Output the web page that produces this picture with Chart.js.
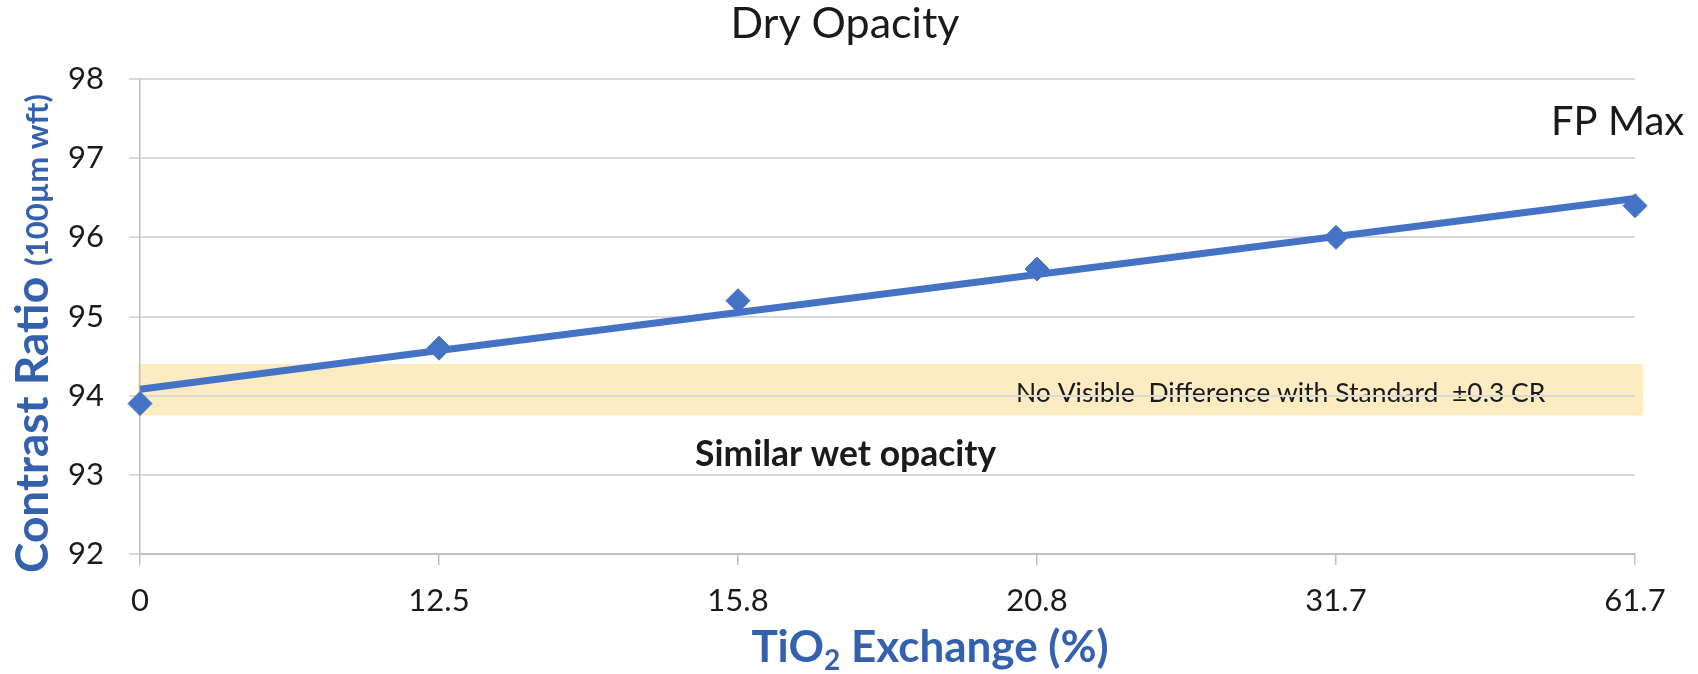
<!DOCTYPE html>
<html>
<head>
<meta charset="utf-8">
<title>Dry Opacity</title>
<script src="https://cdn.jsdelivr.net/npm/chart.js@4.4.1/dist/chart.umd.min.js"></script>
<style>
  html, body { margin: 0; padding: 0; background: #fff; }
  canvas { display: block; }
</style>
</head>
<body>
<canvas id="opacityChart" width="1698" height="674"></canvas>
<script>
// values
const categories = ['0', '12.5', '15.8', '20.8', '31.7', '61.7'];
const contrastRatio = [93.9, 94.6, 95.2, 95.6, 96.0, 96.4];
const trendLine = [94.08, 94.57, 95.05, 95.53, 96.01, 96.49];
const yTicks = [92, 93, 94, 95, 96, 97, 98];
const bandRange = [93.75, 94.4];

const blue = '#4472C4';
const titleBlue = '#3461AD';
const textColor = '#1a1a1a';

// band, notes and titles drawn on the canvas
const annotations = {
  id: 'annotations',
  beforeDraw(chart) {
    const ctx = chart.ctx;
    const area = chart.chartArea;
    const x = chart.scales.x;
    const y = chart.scales.y;
    ctx.save();
    ctx.fillStyle = '#fff';
    ctx.fillRect(0, 0, chart.width, chart.height);

    // "no visible difference" band
    const top = y.getPixelForValue(bandRange[1]);
    const bottom = y.getPixelForValue(bandRange[0]);
    const right = x.getPixelForValue(categories.length - 1) + 8;
    ctx.fillStyle = '#FDEBC1';
    ctx.fillRect(area.left - 2, top, right - area.left + 2, bottom - top);

    ctx.fillStyle = textColor;
    ctx.textBaseline = 'alphabetic';
    ctx.textAlign = 'left';
    ctx.font = '26.5px Lato';
    ctx.fillText('No Visible  Difference with Standard  \u00B10.3 CR', 1016, 402);
    ctx.font = 'bold 35.5px Lato';
    ctx.fillText('Similar wet opacity', 695, 466);
    ctx.restore();
  },
  afterDraw(chart) {
    const ctx = chart.ctx;
    ctx.save();
    ctx.textBaseline = 'alphabetic';

    // chart title
    ctx.fillStyle = textColor;
    ctx.textAlign = 'center';
    ctx.font = '43px Lato';
    ctx.fillText('Dry Opacity', 845, 38);

    ctx.textAlign = 'left';
    ctx.font = '40px Lato';
    ctx.fillText('FP Max', 1551, 135);

    // x axis title with subscript
    ctx.fillStyle = titleBlue;
    const big = 'bold 44px Lato';
    const sub = 'bold 28px Lato';
    ctx.font = big;
    const w1 = ctx.measureText('TiO').width;
    const w3 = ctx.measureText(' Exchange (%)').width;
    ctx.font = sub;
    const w2 = ctx.measureText('2').width;
    const xs = 930 - (w1 + w2 + w3) / 2;
    ctx.font = big;
    ctx.fillText('TiO', xs, 662);
    ctx.font = sub;
    ctx.fillText('2', xs + w1, 670);
    ctx.font = big;
    ctx.fillText(' Exchange (%)', xs + w1 + w2, 662);

    // y axis title, two sizes
    ctx.translate(48, 573);
    ctx.rotate(-Math.PI / 2);
    ctx.font = 'bold 46px Lato';
    ctx.fillText('Contrast Ratio', 0, 0);
    const wa = ctx.measureText('Contrast Ratio ').width;
    ctx.font = 'bold 31px Lato';
    ctx.fillText('(100\u00B5m wft)', wa, 0);
    ctx.restore();
  }
};

const ctx = document.getElementById('opacityChart').getContext('2d');
const chart = new Chart(ctx, {
  type: 'line',
  data: {
    labels: categories,
    datasets: [
      {
        label: 'Contrast Ratio',
        data: contrastRatio,
        showLine: false,
        pointStyle: 'rectRot',
        pointRadius: 12,
        pointHoverRadius: 12,
        pointBackgroundColor: blue,
        pointBorderColor: blue,
        pointBorderWidth: 1,
        order: 1
      },
      {
        label: 'Trend',
        data: trendLine,
        borderColor: blue,
        borderWidth: 7,
        pointRadius: 0,
        pointHoverRadius: 0,
        fill: false,
        tension: 0,
        order: 2
      }
    ]
  },
  options: {
    responsive: false,
    animation: false,
    events: [],
    layout: { padding: { top: 79, right: 63, left: 0, bottom: 0 } },
    plugins: {
      legend: { display: false },
      title: { display: false },
      tooltip: { enabled: false }
    },
    scales: {
      x: {
        type: 'category',
        offset: false,
        grid: { drawOnChartArea: false, tickLength: 11, color: '#BFBFBF', lineWidth: 1.5 },
        border: { color: '#BFBFBF', width: 2 },
        ticks: {
          color: textColor,
          font: { family: 'Lato', size: 31 },
          padding: 17,
          maxRotation: 0,
          autoSkip: false
        },
        afterFit: function(scale) { scale.height = 120; }
      },
      y: {
        min: 92,
        max: 98,
        grid: { color: '#D9D9D9', lineWidth: 2, tickLength: 11, tickColor: '#D9D9D9' },
        border: { color: '#BFBFBF', width: 1.5 },
        ticks: {
          color: textColor,
          font: { family: 'Lato', size: 31 },
          padding: 25
        },
        afterBuildTicks: function(scale) {
          scale.ticks = yTicks.map(v => ({ value: v }));
        },
        afterFit: function(scale) { scale.width = 140; }
      }
    }
  },
  plugins: [annotations]
});
</script>
</body>
</html>
